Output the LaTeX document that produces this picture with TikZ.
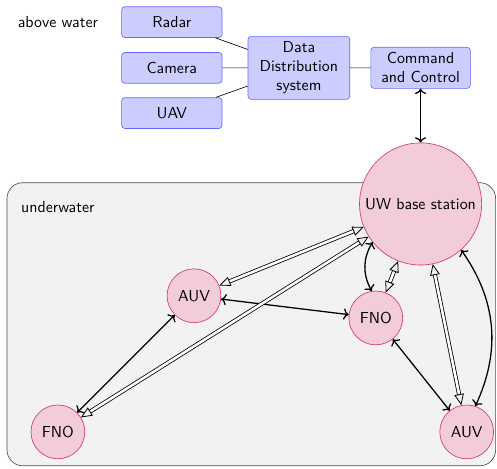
\documentclass[tikz,border=0pt]{standalone}
\usepackage{tikz}
\usetikzlibrary{arrows.meta,shapes}

\definecolor{uwedge}{RGB}{214,52,110}

\begin{document}
\begin{tikzpicture}[font=\sffamily,
    sensor/.style={draw=blue!60, fill=blue!20, rounded corners=2pt, minimum width=2.22cm, minimum height=0.68cm},
    unit/.style={draw=uwedge, fill=purple!20, shape=circle, minimum size=1.19cm, inner sep=1pt},
    link/.style={thick, <->},
    acoustic/.style={double, line width=0.5pt, double distance=1.6pt, {Triangle[open,length=7pt,width=6pt]}-{Triangle[open,length=7pt,width=6pt]}}]
  \useasboundingbox (0,0) rectangle (10.99,-10.35);
  % the underwater region
  \draw[black!70, fill=black!5, rounded corners=0.35cm] (0.155,-4.04) rectangle (10.96,-10.30);
  \path (1.28,-4.57) node (underwater) {underwater};
  % above water part
  \path (1.28,-0.49) node (above) {above water};
  \path (3.80,-0.49) node[sensor] (radar) {Radar};
  \path (3.80,-1.50) node[sensor] (camera) {Camera};
  \path (3.80,-2.50) node[sensor] (uav) {UAV};
  \path (6.61,-1.50) node[sensor, align=center, minimum width=2.25cm] (dds) {Data\\Distribution\\system};
  \path (9.30,-1.50) node[sensor, align=center, minimum width=2.2cm] (cc) {Command\\and Control};
  \draw (radar) -- (dds) (camera) -- (dds) (uav) -- (dds) (dds) -- (cc);
  % base station and the nodes below it
  \path (9.30,-4.51) node[unit, minimum size=2.70cm] (base) {UW base station};
  \path (4.29,-6.54) node[unit] (auvA) {AUV};
  \path (8.31,-7.03) node[unit] (fnoA) {FNO};
  \path (1.28,-9.55) node[unit] (fnoB) {FNO};
  \path (10.32,-9.55) node[unit] (auvB) {AUV};
  % links
  \draw[link] (cc) -- (base);
  \draw[link] (base) to[bend right] (fnoA);
  \draw[link] (base) to[bend left] (auvB);
  \draw[link] (auvA) -- (fnoA);
  \draw[link] (auvA) -- (fnoB);
  \draw[link] (fnoA) -- (auvB);
  \draw[acoustic] (base) -- (auvA);
  \draw[acoustic] (base) -- (fnoB);
  \draw[acoustic] (base) -- (fnoA);
  \draw[acoustic] (base) -- (auvB);
\end{tikzpicture}
\end{document}
